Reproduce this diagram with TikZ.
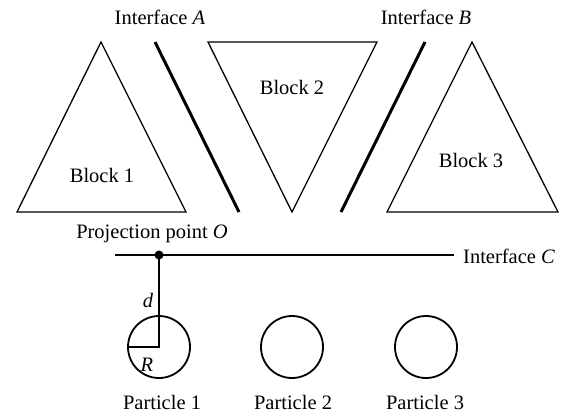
\documentclass[tikz,border=0pt]{standalone}
\usepackage{fontspec}
\setmainfont{Liberation Serif}
\begin{document}
\begin{tikzpicture}[x=1pt,y=-1pt,
  lbl/.style={inner sep=0pt,font=\fontsize{20.5}{24}\selectfont},
  blockshape/.style={draw,line width=1.3pt,line join=miter},
  iface/.style={draw,line width=3pt},
  ifacec/.style={draw,line width=2.6pt},
  particle/.style={draw,circle,line width=1.8pt,minimum size=62pt,inner sep=0pt}]
\useasboundingbox (0,0) rectangle (564,416);
% blocks
\draw[blockshape] (101,42) -- (186,212) -- (17,212) -- cycle;
\draw[blockshape] (208,42) -- (377,42) -- (292,212) -- cycle;
\draw[blockshape] (472,42) -- (558,212) -- (387,212) -- cycle;
\node[lbl] (b1) at (102,175) {Block 1};
\node[lbl] (b2) at (292,87) {Block 2};
\node[lbl] (b3) at (471,160) {Block 3};
% interfaces A, B
\coordinate (a1) at (155,42); \coordinate (a2) at (239,212);
\coordinate (bb1) at (425,42); \coordinate (bb2) at (341,212);
\draw[iface] (a1) -- (a2);
\draw[iface] (bb1) -- (bb2);
\node[lbl] (la) at (160,17) {Interface \textit{A}};
\node[lbl] (lb) at (426,17) {Interface \textit{B}};
% interface C
\coordinate (c1) at (115,255); \coordinate (c2) at (454,255);
\draw[ifacec] (c1) -- (c2);
\node[lbl,anchor=west] (lc) at (463,256) {Interface \textit{C}};
% point O
\node[circle,fill,inner sep=0pt,minimum size=9pt] (O) at (159,255) {};
\node[lbl] (lo) at (152,234) {Projection point \textit{O}};
% particles
\node[particle] (p1) at (159,347) {};
\node[particle] (p2) at (292,347) {};
\node[particle] (p3) at (426,347) {};
\draw[line width=2pt] (O.center) -- (p1.center) -- (p1.west);
\node[lbl] (ld) at (148,300) {\textit{d}};
\node[lbl] (lr) at (147,365) {\textit{R}};
\node[lbl] (t1) at (162,402) {Particle 1};
\node[lbl] (t2) at (293,402) {Particle 2};
\node[lbl] (t3) at (425,402) {Particle 3};
\end{tikzpicture}
\end{document}
